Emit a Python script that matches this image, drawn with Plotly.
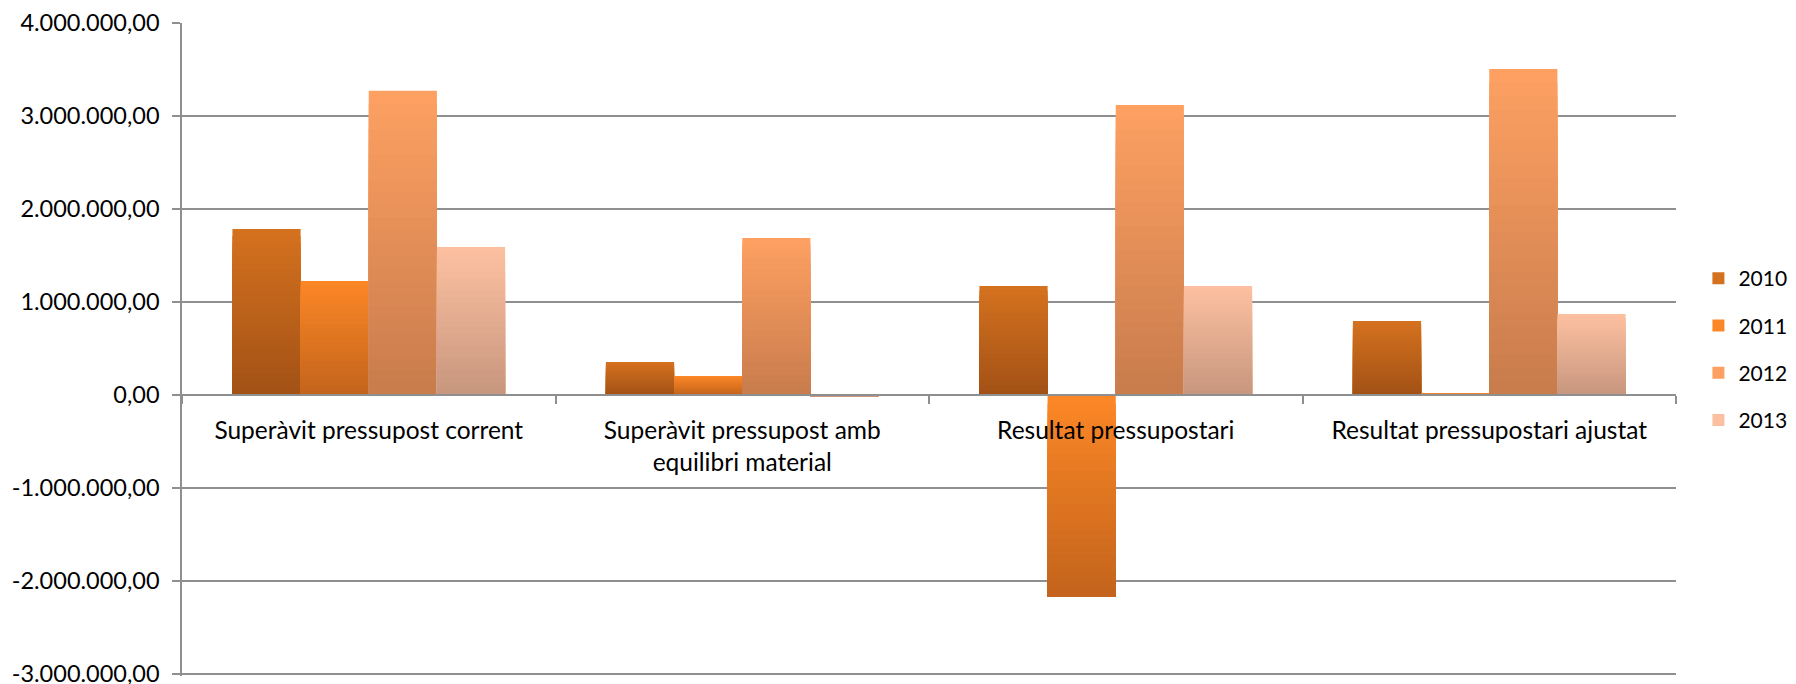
import plotly.graph_objects as go

categories = ["Superàvit pressupost corrent",
              "Superàvit pressupost amb<br>equilibri material",
              "Resultat pressupostari",
              "Resultat pressupostari ajustat"]
years = ["2010", "2011", "2012", "2013"]
v2010 = [1785000, 355000, 1172000, 796000]
v2011 = [1226000, 204000, -2169000, 18000]
v2012 = [3272000, 1688000, 3118000, 3505000]
v2013 = [1591000, -15000, 1172000, 871000]
series = [v2010, v2011, v2012, v2013]

tick_vals = [-3000000, -2000000, -1000000, 0, 1000000, 2000000, 3000000, 4000000]
tick_text = ["-3.000.000,00", "-2.000.000,00", "-1.000.000,00", "0,00",
             "1.000.000,00", "2.000.000,00", "3.000.000,00", "4.000.000,00"]

# gradient colours (top, bottom) per series
top_cols = [(212, 113, 31), (251, 135, 38), (253, 160, 98), (252, 192, 160)]
bot_cols = [(163, 82, 22), (196, 100, 28), (201, 124, 76), (200, 151, 127)]

FONT = "Lato"
N = 24
fig = go.Figure()
for i, (yr, vals) in enumerate(zip(years, series)):
    tc, bc = top_cols[i], bot_cols[i]
    for k in range(N):
        t = k / (N - 1)
        col = "rgb(%d,%d,%d)" % tuple(round(tc[j] + (bc[j] - tc[j]) * t) for j in range(3))
        if k == 0:
            fig.add_trace(go.Bar(x=categories, y=vals, name=yr, offsetgroup=yr,
                                 legendgroup=yr, marker=dict(color=col, line=dict(width=0))))
        else:
            bases = [min(v, 0) for v in vals]
            heights = [abs(v) * (1 - k / N) for v in vals]
            fig.add_trace(go.Bar(x=categories, y=heights, base=bases, offsetgroup=yr,
                                 legendgroup=yr, showlegend=False, hoverinfo="skip",
                                 marker=dict(color=col, line=dict(width=0))))

GRID = "#8f8f8f"
y_lo, y_hi = -3020000, 4000000
fig.update_layout(
    width=1796, height=684,
    margin=dict(l=182, r=120, t=23, b=8.1, autoexpand=False),
    paper_bgcolor="white", plot_bgcolor="white",
    barmode="group", bargap=0.27, bargroupgap=0,
    font=dict(family=FONT, size=24, color="black"),
    legend=dict(x=1.015, xanchor="left", y=0.5, yanchor="middle",
                traceorder="grouped", tracegroupgap=17,
                font=dict(family=FONT, size=21, color="black")),
    xaxis=dict(anchor="free", position=-y_lo / (y_hi - y_lo), showline=True, linecolor=GRID,
               linewidth=1.5, ticks="outside", tickson="boundaries", ticklen=8, tickcolor=GRID,
               tickwidth=1.5, showgrid=False, ticklabelstandoff=14,
               tickfont=dict(family=FONT, size=24.5, color="black")),
    yaxis=dict(range=[y_lo, y_hi], tickvals=tick_vals, ticktext=tick_text,
               showline=True, linecolor=GRID, linewidth=1.5,
               ticks="outside", ticklen=8, tickcolor=GRID, tickwidth=1.5,
               showgrid=True, gridcolor=GRID, gridwidth=1.5, zeroline=False,
               ticklabelstandoff=8, ticklabeloverflow="allow",
               tickfont=dict(family=FONT, size=23.5, color="black")),
)
fig.write_html("out.html", config={"displayModeBar": False},
               post_script="document.body.style.margin='0';document.body.style.overflow='hidden';")
